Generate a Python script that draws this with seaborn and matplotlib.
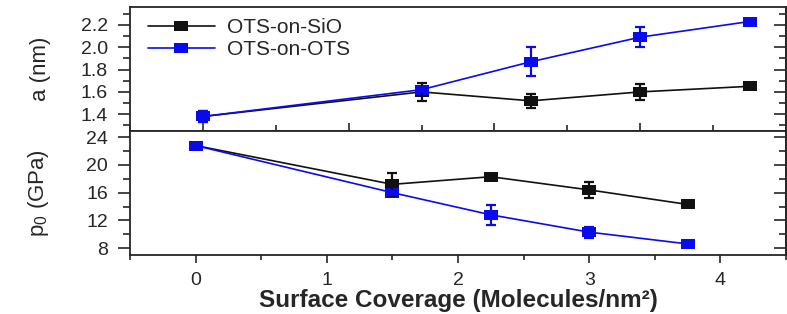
import matplotlib
matplotlib.use("Agg")
import matplotlib.pyplot as plt
import pandas as pd
import seaborn as sns
from matplotlib.ticker import MultipleLocator, FormatStrFormatter

sns.set_style("ticks")
plt.rcParams["font.family"] = ["Liberation Sans", "DejaVu Sans"]
plt.rcParams["mathtext.fontset"] = "custom"
plt.rcParams["mathtext.rm"] = "Liberation Sans"

# data
coverage = [0.0, 1.5, 2.25, 3.0, 3.75]
series = ["OTS-on-SiO", "OTS-on-OTS"]

a_sio = [1.38, 1.60, 1.52, 1.60, 1.65]
a_sio_err = [0.05, 0.08, 0.06, 0.07, 0.01]
a_ots = [1.38, 1.62, 1.87, 2.09, 2.23]
a_ots_err = [0.05, 0.02, 0.13, 0.09, 0.01]

p_sio = [22.8, 17.2, 18.3, 16.4, 14.3]
p_sio_err = [0.3, 1.7, 0.2, 1.2, 0.4]
p_ots = [22.8, 16.0, 12.8, 10.3, 8.6]
p_ots_err = [0.3, 0.3, 1.4, 0.8, 0.2]

colors = {"OTS-on-SiO": "#111111", "OTS-on-OTS": "#0a0af0"}
rect = [(-1.4, -1), (1.4, -1), (1.4, 1), (-1.4, 1), (-1.4, -1)]

df = pd.DataFrame({
    "coverage": coverage * 2,
    "film": [series[0]] * 5 + [series[1]] * 5,
    "a": a_sio + a_ots,
    "a_err": a_sio_err + a_ots_err,
    "p0": p_sio + p_ots,
    "p0_err": p_sio_err + p_ots_err,
})

fig = plt.figure(figsize=(7.87, 3.14), dpi=100)
ax_a = fig.add_axes([0.1652, 0.5828, 0.8335, 0.3949])
ax_p = fig.add_axes([0.1652, 0.1879, 0.8335, 0.3949])

secs = {}
for ax, col, show_leg in [(ax_a, "a", True), (ax_p, "p0", False)]:
    sns.lineplot(data=df, x="coverage", y=col, hue="film", hue_order=series,
                 palette=colors, marker=rect, markersize=10, markeredgewidth=0,
                 linewidth=1.2, errorbar=None, legend=show_leg, ax=ax)
    for name in series:
        sub = df[df["film"] == name]
        ax.errorbar(sub["coverage"], sub[col], yerr=sub[col + "_err"], fmt="none",
                    ecolor=colors[name], elinewidth=1.6, capsize=3.5, capthick=1.6,
                    zorder=3)
    for s in ax.spines.values():
        s.set_visible(True)
        s.set_linewidth(1.3)
    ax.set_xlabel("")
    # right-hand ticks point inward
    sec = ax.secondary_yaxis("right")
    sec.tick_params(which="major", direction="in", length=9, width=1.2, labelright=False)
    sec.tick_params(which="minor", direction="in", length=5, width=1.2)
    sec.spines["right"].set_linewidth(1.3)
    secs[col] = sec

# top panel
ax_a.set_xlim(-0.5, 4.0)
ax_a.set_ylim(1.25, 2.36)
ax_a.xaxis.set_major_locator(MultipleLocator(1))
ax_a.xaxis.set_minor_locator(MultipleLocator(0.5))
ax_a.yaxis.set_major_locator(MultipleLocator(0.2))
ax_a.yaxis.set_minor_locator(MultipleLocator(0.1))
ax_a.yaxis.set_major_formatter(FormatStrFormatter("%.1f"))
secs["a"].yaxis.set_major_locator(MultipleLocator(0.2))
secs["a"].yaxis.set_minor_locator(MultipleLocator(0.1))
ax_a.tick_params(axis="x", which="major", direction="inout", length=12, width=1.2,
                 labelbottom=False)
ax_a.tick_params(axis="x", which="minor", direction="inout", length=8, width=1.2)
ax_a.set_ylabel("a (nm)", fontsize=16)

# bottom panel
ax_p.set_xlim(-0.5, 4.5)
ax_p.set_ylim(7.0, 24.9)
ax_p.xaxis.set_major_locator(MultipleLocator(1))
ax_p.xaxis.set_minor_locator(MultipleLocator(0.5))
ax_p.yaxis.set_major_locator(MultipleLocator(4))
ax_p.yaxis.set_minor_locator(MultipleLocator(2))
secs["p0"].yaxis.set_major_locator(MultipleLocator(4))
secs["p0"].yaxis.set_minor_locator(MultipleLocator(2))
ax_p.tick_params(axis="x", which="major", direction="out", length=6, width=1.2, pad=6)
ax_p.tick_params(axis="x", which="minor", direction="out", length=3.5, width=1.2)
ax_p.set_ylabel("p$_0$ (GPa)", fontsize=16)
ax_p.set_xlabel("Surface Coverage (Molecules/nm²)", fontsize=17.5,
                fontweight="bold", labelpad=0)

for ax in (ax_a, ax_p):
    ax.tick_params(axis="y", which="major", direction="out", length=9, width=1.2,
                   labelsize=14, pad=7)
    ax.tick_params(axis="y", which="minor", direction="out", length=5, width=1.2)
    ax.tick_params(axis="x", labelsize=14)
    ax.yaxis.set_label_coords(-0.12, 0.5)

handles, labels = ax_a.get_legend_handles_labels()
ax_a.legend(handles, labels, loc="upper left", bbox_to_anchor=(0.005, 1.03),
            frameon=False, fontsize=15, handlelength=3.2, handletextpad=0.6,
            labelspacing=0.15, borderaxespad=0.3)

fig.savefig("out.png", dpi=100)
